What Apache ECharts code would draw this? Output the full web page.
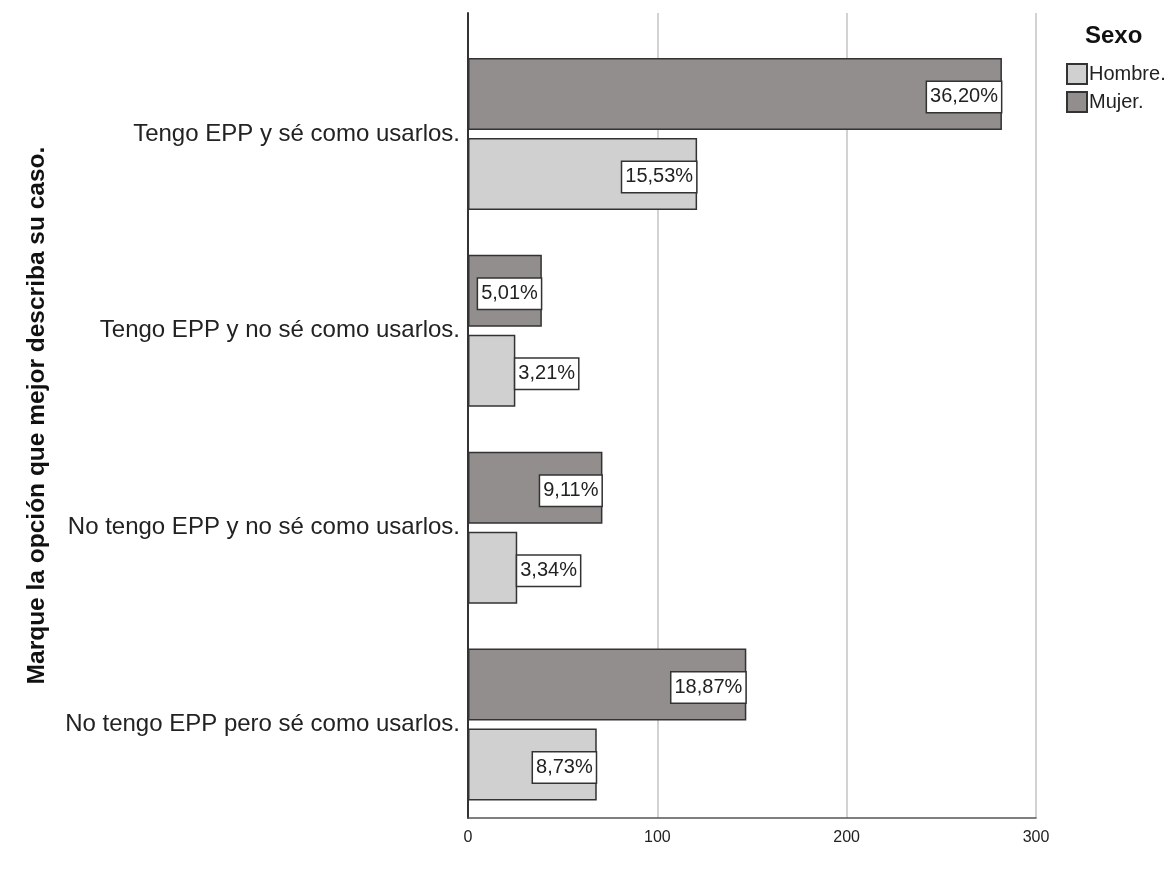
<!DOCTYPE html>
<html>
<head>
<meta charset="utf-8">
<script src="https://cdn.jsdelivr.net/npm/echarts@6/dist/echarts.min.js"></script>
<style>html,body{margin:0;padding:0;background:#fff;}#c{width:1168px;height:875px;}</style>
</head>
<body>
<div id="c"></div>
<script>
const categories = [
  'Tengo EPP y sé como usarlos.',
  'Tengo EPP y no sé como usarlos.',
  'No tengo EPP y no sé como usarlos.',
  'No tengo EPP pero sé como usarlos.'
];
const mujerCounts = [282, 39, 71, 147];
const hombreCounts = [121, 25, 26, 68];
const mujerPct = ['36,20%', '5,01%', '9,11%', '18,87%'];
const hombrePct = ['15,53%', '3,21%', '3,34%', '8,73%'];
const xTicks = [0, 100, 200, 300];
const legendTitle = 'Sexo';
const axisTitle = 'Marque la opción que mejor describa su caso.';

const FONT = 'Liberation Sans, Arial, sans-serif';
const labelBox = {
  show: true,
  fontFamily: FONT,
  fontSize: 20,
  color: '#222',
  backgroundColor: '#fff',
  borderColor: '#333',
  borderWidth: 1.5,
  padding: [5, 3, 5, 3],
  offset: [0, 3]
};
function buildData(counts, pcts, outsideIdx) {
  return counts.map((v, i) => {
    const outside = outsideIdx.indexOf(i) >= 0;
    return {
      value: v,
      label: Object.assign({}, labelBox, {
        position: outside ? 'right' : 'insideRight',
        distance: outside ? 0 : 1,
        formatter: () => pcts[i]
      })
    };
  });
}

const chart = echarts.init(document.getElementById('c'));
chart.setOption({
  animation: false,
  title: {
    text: legendTitle, left: 1085, top: 24, padding: 0,
    textStyle: { fontFamily: FONT, fontSize: 24, fontWeight: 'bold', color: '#111' }
  },
  legend: {
    orient: 'vertical', left: 1066, top: 63, padding: 0,
    itemWidth: 20, itemHeight: 20, itemGap: 6,
    icon: 'rect',
    data: ['Hombre.', 'Mujer.'],
    textStyle: { fontFamily: FONT, fontSize: 20, color: '#222', padding: [0, 0, 0, -3] }
  },
  grid: [
    { left: 468, right: 132, top: 13, bottom: 57 },
    { left: 468, right: 132, top: 35.5, bottom: 52 }
  ],
  xAxis: [
    {
      gridIndex: 0, type: 'value', min: xTicks[0], max: xTicks[xTicks.length - 1], interval: 100,
      axisLine: { show: true, lineStyle: { color: '#555', width: 1.5 } },
      axisTick: { show: false },
      axisLabel: { fontFamily: FONT, fontSize: 16, color: '#222', margin: 12 },
      splitLine: { show: true, lineStyle: { color: '#d2d2d2', width: 2 } }
    },
    {
      gridIndex: 1, type: 'value', min: xTicks[0], max: xTicks[xTicks.length - 1],
      show: false, splitLine: { show: false }
    }
  ],
  yAxis: [
    {
      gridIndex: 0, type: 'category', data: categories, inverse: true,
      axisLine: { show: true, lineStyle: { color: '#333', width: 2 } },
      axisTick: { show: false }, axisLabel: { show: false },
      name: axisTitle, nameLocation: 'middle', nameRotate: 90, nameGap: 418,
      nameTextStyle: { fontFamily: FONT, fontSize: 24.5, fontWeight: 'bold', color: '#111' }
    },
    {
      gridIndex: 1, type: 'category', data: categories, inverse: true,
      axisLine: { show: false }, axisTick: { show: false },
      axisLabel: { fontFamily: FONT, fontSize: 24, color: '#222', margin: 8 }
    }
  ],
  series: [
    {
      name: 'Mujer.', type: 'bar', xAxisIndex: 1, yAxisIndex: 1,
      barWidth: 72, barGap: '11%',
      itemStyle: { color: '#928e8d', borderColor: '#333', borderWidth: 1.5 },
      data: buildData(mujerCounts, mujerPct, [])
    },
    {
      name: 'Hombre.', type: 'bar', xAxisIndex: 1, yAxisIndex: 1,
      barWidth: 72, barGap: '11%',
      itemStyle: { color: '#d0d0d0', borderColor: '#333', borderWidth: 1.5 },
      data: buildData(hombreCounts, hombrePct, [1, 2])
    }
  ]
});
</script>
</body>
</html>
